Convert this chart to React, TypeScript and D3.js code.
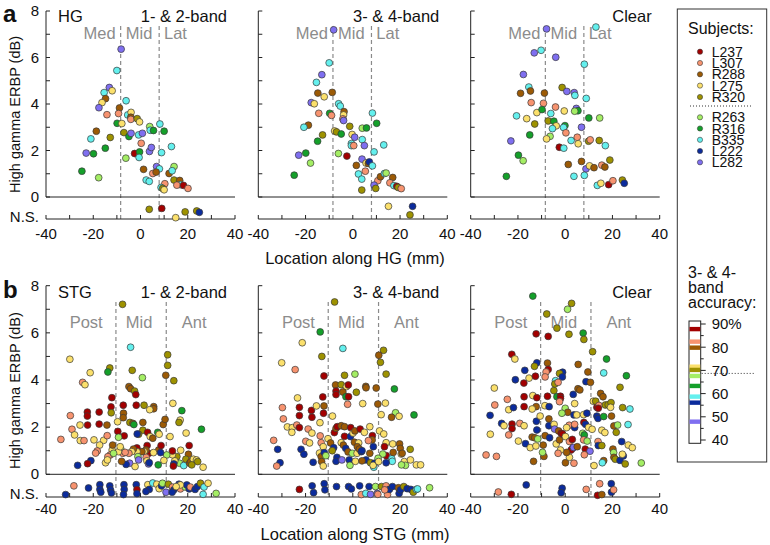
import React from "react";
import * as d3 from "d3";

type Pt = [number, number, number];

const SUBJECTS = ["L237", "L307", "R288", "L275", "R320", "R263", "R316", "B335", "L222", "L282"];
const COLORS = ["#a30000", "#f7936f", "#9c5a05", "#fbe06c", "#9e9200", "#a4ee64", "#14a02a", "#64f0ee", "#0b2b9c", "#7f6ff0"];
const ACCURACY = [87.8, 82.4, 79.8, 71.6, 70.2, 67.6, 63.3, 58.7, 56.1, 47.9];
const ACC_THRESHOLD = 68.7;
const ACC_TICKS = [40, 50, 60, 70, 80, 90];
const X_TICKS = [-40, -20, 0, 20, 40];
const Y_TICKS = [0, 2, 4, 6, 8];

const HG_12: Pt[] = [
  [-8.2,6.36,9],[-10,5.44,7],[-13.2,4.71,9],[-12,4.57,3],[-15.4,4.49,7],[-14.8,4.23,2],[-16.3,4.06,3],[-17.6,3.84,9],[-14.2,3.54,1],[-8.9,3.83,2],[-9.3,3.59,1],[-9.9,3.17,6],[-7.9,3.16,3],[-6.1,4.14,7],[-5.4,3.53,7],[-4,3.64,3],[-4.1,3.43,2],[-4.1,3.34,1],[-1.4,3.37,4],[-0.4,3.23,3],[-7,2.77,4],[-4.9,2.6,6],[-4,2.74,9],[-0.8,2.67,7],[0.8,2.74,9],[3.9,3.03,5],[4.1,2.87,7],[5.5,2.86,6],[8.2,3.14,7],[10,2.83,6],[-18.7,2.83,2],[-21,2.5,7],[-12.8,2.56,4],[-23,1.89,9],[-19.9,1.86,6],[-14.9,2.1,6],[-6.2,1.67,5],[-2.5,1.87,0],[-0.4,1.94,6],[-0.6,1.7,7],[0.3,2.31,1],[3.8,1.96,9],[4.6,2.13,9],[8.9,1.91,7],[13.1,2.17,7],[6.8,1.31,9],[8,1.21,7],[1.3,1.19,2],[5.2,1.01,1],[6.6,1.07,2],[12.1,1.01,2],[14.2,1.31,5],[13.4,1.13,7],[14.2,0.73,4],[16.6,0.71,2],[16.9,0.53,7],[15.4,0.51,1],[18.2,0.5,0],[20.1,0.37,1],[10.3,0.57,1],[8.7,0.41,7],[9.4,0.37,4],[10,0.31,3],[2.4,0.73,7],[3.7,0.67,7],[-24.8,1.11,6],[-17.7,0.83,5],
  [3.7,-0.53,4],[9,-0.49,0],[14.9,-0.89,3],[18.9,-0.64,4],[23.8,-0.6,4],[24.9,-0.66,8],
];

const HG_34: Pt[] = [
  [-8.1,7.19,9],[-10,5.77,7],[-13.1,5.26,9],[-15.4,4.93,7],[-14.8,4.47,2],[-12.1,4.31,3],[-8.7,4.5,2],[-17.6,4.06,9],[-16.3,4.01,3],[-14.4,3.6,1],[-9.8,3.6,6],[-9,3.51,1],[-6,4.01,7],[-5.3,3.91,7],[-3.7,3.67,2],[-3.9,3.53,3],[-4.2,3.36,1],[-3.9,3.29,9],[-18.8,3.09,2],[-20.7,3,7],[-12.8,2.67,4],[-14.9,2.4,6],[-7.7,2.84,3],[-6.9,2.8,4],[-4.9,2.71,6],[-1.3,3.04,4],[4,2.96,5],[5.8,2.97,6],[8.3,3.61,7],[10.1,3.17,6],[-0.3,2.69,3],[0.8,2.57,9],[-0.6,2.3,7],[-0.6,2.21,7],[0.4,2.21,1],[4,2.47,7],[4.9,2.21,9],[13.1,2.24,7],[9,1.94,7],[-22.9,1.8,9],[-19.9,1.89,6],[-17.9,1.46,5],[-6.1,1.87,5],[-2.5,1.76,0],[-24.8,0.94,6],[1.5,1.36,2],[3.9,1.63,9],[5.6,1.46,3],[6.6,1.44,2],[7,1.51,8],[8.3,1.34,7],[2.4,0.99,7],[3.8,0.77,7],[5.3,1.11,1],[10.6,0.7,1],[11.7,0.87,2],[13.4,1.01,7],[14.1,1.03,5],[16.9,0.84,2],[15.7,0.61,1],[17.4,0.49,7],[18.6,0.46,0],[19.2,0.41,4],[20.5,0.36,1],[9,0.51,9],[9.7,0.37,4],[3.8,0.3,4],
  [15.1,-0.4,3],[25.3,-0.4,8],[24.2,-0.77,4],
];

const HG_CLEAR: Pt[] = [
  [-7.9,7.23,9],[13,7.31,7],[-10.2,6.31,7],[-13.1,6.2,9],[-4,6.01,9],[8.1,5.71,7],[-17.7,5.27,9],[-15.4,4.73,7],[-14.7,4.56,2],[-18.9,4.46,2],[-8.8,4.47,2],[-1.3,4.71,4],[0.7,4.54,9],[3.8,4.49,9],[4.1,4.37,7],[8.9,4.24,7],[-14.4,4.06,1],[-9.2,4.03,1],[-12,3.63,3],[-9.8,3.76,6],[-6.1,3.59,7],[-4.1,3.87,1],[-0.4,3.7,3],[4.7,3.81,9],[5.4,3.71,6],[4,3.69,5],[-20.6,3.49,7],[-16.3,3.37,3],[10,3.4,6],[14.6,3.4,5],[-12.9,3.14,4],[-7.2,3.27,4],[-4.8,3.26,6],[-3.8,3.06,3],[-5.4,2.94,7],[-0.1,3.07,6],[-0.7,2.99,7],[6.9,3,9],[-15,2.67,6],[0.3,2.76,1],[-23,2.41,9],[-6.4,2.61,5],[-7.9,2.5,3],[2.5,2.43,7],[5.1,2.57,1],[5.5,2.29,3],[9.9,2.4,4],[10.6,2.46,1],[14.4,2.43,4],[17,2.21,7],[-2.5,2.14,0],[-0.6,2.1,7],[-19.8,1.8,6],[-17.8,1.56,5],[1.3,1.4,2],[6.9,1.53,2],[8.8,1.21,9],[10.3,1.34,3],[12.2,1.26,2],[15.5,1.37,1],[16.8,1.29,2],[18.9,1.59,4],[-24.9,0.89,6],[3.7,0.89,7],[8.1,0.93,7],[13.6,0.5,7],[15.1,0.59,3],[18.4,0.53,0],[20.2,0.7,1],[24.2,0.73,4],[25,0.59,8],
];

const STG_12: Pt[] = [
  [-7.6,7.21,4],[-4.2,5.39,7],[-29.9,4.88,3],[-21.3,4.31,3],[-24.5,3.9,1],[-23.5,3.8,3],[-13,4.51,4],[-13.8,4.34,6],[-3.5,4.41,4],[0.8,4.1,5],[-4.9,3.72,2],[-4.2,3.63,2],[-2.5,3.53,4],[-2,3.38,0],[11.5,5.07,4],[11.5,4.62,4],[10.7,4.2,2],[14.1,3.97,4],[13.7,3.01,3],[-12.1,3.25,0],[-12.5,2.86,0],[-12.4,2.61,4],[-7.3,2.93,0],[-7.2,2.59,2],[-7.3,2.4,2],[-1.8,2.93,0],[1.5,2.93,4],[5.6,2.87,2],[5.6,2.78,2],[3.9,2.74,3],[-29.7,2.49,1],[-22.5,2.64,0],[-22.5,2.47,0],[-22.4,2.09,0],[-17.5,2.64,0],[-17.5,2.13,0],[-14.2,2.09,2],[-25.6,2.09,3],[-29,1.91,1],[-27.9,1.67,3],[-25.5,1.43,3],[-23.9,1.43,1],[-33.7,1.48,1],[-19.7,1.46,3],[-15.6,1.44,3],[-14.1,1.64,1],[-17.3,1.24,3],[-18.3,0.99,1],[-19,0.9,1],[-9.7,2.23,3],[-9.6,1.82,0],[-6.9,1.63,0],[-4.5,2.2,4],[-3.2,2.16,2],[-2.8,2.11,6],[1,2.2,2],[1,1.87,4],[-0.8,1.7,4],[-1.4,1.71,8],[3,1.78,0],[4.1,1.6,3],[5.2,1.53,2],[7.3,1.78,6],[7.9,1.7,3],[9.6,2.11,2],[10.4,2.33,2],[12.5,1.6,3],[16.8,2.3,3],[16.3,2.2,4],[17.5,2.7,6],[19.3,1.75,3],[25.8,1.91,6],[20.6,1.22,0],[20.3,0.85,2],[19.2,0.64,4],[17,1.02,3],[15.4,0.75,4],[16.5,0.47,5],[14.5,0.57,3],[13.5,0.83,3],[13.5,0.99,0],[14.1,0.44,8],[13.9,0.35,0],[18.3,0.37,7],[20.8,0.47,2],[21.3,0.54,2],[22.4,0.64,3],[23.7,0.61,3],[24.2,0.54,4],[21.7,0.4,4],[26.5,0.3,3],[11.1,0.82,5],[9.9,0.59,3],[7.7,1.03,2],[8.7,1.22,0],[8.5,0.92,8],[7.5,0.4,6],[3.5,0.89,0],[2.8,1.22,0],[2.3,1.03,2],[1.5,0.96,3],[0.6,0.96,2],[-1.5,1.12,0],[-1.5,0.96,3],[-1.1,0.75,5],[-0.8,0.61,9],[2.4,0.72,1],[2.7,0.57,3],[3.4,0.44,9],[3.7,0.49,8],[5.5,0.92,3],[-3,1.07,2],[-3.7,0.96,3],[-4.9,0.89,1],[-4.6,0.47,9],[-6.1,0.42,8],[-7.5,0.89,1],[-8,0.55,2],[-8.3,1.06,5],[-9.3,0.96,3],[-8.6,1.17,3],[-9.3,1.57,5],[-2.3,0.33,3],[-6.5,0.93,1],[-12,1.03,3],[-12.8,0.82,1],[-13.8,0.75,1],[-11.4,0.89,5],[-14.8,0.49,3],[-14,0.61,3],[-21,0.58,8],[-22.4,0.45,0],[-26.6,0.38,8],[-11.8,1.24,2],
  [-28.2,-0.49,1],[-31.7,-0.86,8],[-22,-0.58,8],[-17.2,-0.44,8],[-17.2,-0.64,8],[-16.8,-0.76,8],[-13,-0.49,8],[-12.7,-0.66,8],[-12.3,-0.79,8],[-7,-0.44,8],[-6.9,-0.64,8],[-7.2,-0.86,8],[-1.8,-0.44,8],[-1.5,-0.65,0],[-1.5,-0.82,8],[3.1,-0.44,3],[3.7,-0.64,8],[2.3,-0.73,8],[5.2,-0.37,7],[6.9,-0.42,3],[7.9,-0.61,3],[8.9,-0.49,8],[10.8,-0.76,9],[9.3,-0.38,5],[11.8,-0.42,4],[13.5,-0.54,1],[14.1,-0.66,8],[13.4,-0.76,8],[16.3,-0.42,8],[16.9,-0.62,1],[18.9,-0.54,5],[19.6,-0.45,8],[20.6,-0.62,8],[21.1,-0.54,1],[23.1,-0.64,8],[24.1,-0.52,8],[25.4,-0.38,4],[26.9,-0.54,7],[28.6,-0.38,3],[26.5,-0.85,7],[32,-0.81,5],[16.9,-0.45,3],[15.1,-0.52,3],
];

const STG_34: Pt[] = [
  [-7.7,7.31,4],[-13.8,6.04,6],[-21.4,5.58,3],[-4.2,5.34,7],[-30.1,4.73,3],[-13.1,5,4],[-24.4,4.44,1],[-12.2,4.17,0],[-3.5,4.2,4],[0.9,4.25,5],[13,5.26,4],[11,5.05,2],[11.7,4.75,4],[14.1,4.25,4],[17.6,3.62,6],[-7.3,3.79,2],[-4.9,3.8,4],[-2.7,3.72,3],[-1.9,3.79,0],[-7.1,3.53,0],[-7.1,3.38,0],[-4.2,3.49,2],[-2.9,3.29,6],[-1.8,3.29,0],[1.5,3.48,4],[5.5,3.73,2],[5.6,3.67,2],[9.9,3.66,2],[-12.7,3.28,0],[-12.2,2.9,2],[-23.4,3.24,3],[-29.8,2.83,1],[-22.6,2.84,0],[-22.6,2.49,0],[-17.5,2.71,0],[-17.3,2.42,0],[-15.4,2.9,3],[-12.4,2.59,0],[-29.4,2.35,1],[-8.6,2.47,3],[-2.2,2.97,1],[4.2,3,3],[10.6,2.98,2],[13.8,3.02,3],[18.1,2.61,5],[19.6,2.46,3],[16.4,2.42,2],[12,2.53,3],[25.9,2.52,6],[-27.7,2.01,3],[-25.6,1.98,3],[-25.8,1.78,3],[-23.7,2.09,1],[-22.6,1.98,0],[-18.9,1.92,1],[-17.3,1.75,3],[-13.9,2.19,3],[-13.8,1.63,1],[-33.5,1.44,1],[-31.8,1.06,8],[-19.9,1.4,1],[-18.3,1.33,3],[-21.9,1.06,8],[-20.7,0.85,8],[-30.8,0.49,8],[-32.2,0.35,1],[-16.8,0.51,8],[-13.4,1.34,1],[-12.5,1.17,3],[-14.1,0.9,3],[-13.4,0.75,2],[-13.2,0.54,2],[-12.5,0.35,3],[-12.1,0.92,8],[-11.4,0.79,5],[-10.5,1.51,3],[-9.4,1.33,2],[-7.8,1.77,0],[-7.1,1.95,2],[-6.6,2.02,0],[-4.9,2.06,2],[-3.5,2.02,2],[-8.1,1.13,8],[-8.7,1,4],[-6.7,0.72,8],[-7.1,0.55,8],[-4.9,1.34,3],[-4,1.24,2],[-3,1.1,8],[-3.5,1.61,0],[-4.6,0.61,9],[-1.5,0.61,8],[-2,0.95,2],[-1,1.6,8],[-0.9,1.98,0],[0.1,1.75,3],[0.9,1.84,2],[0.7,1.36,2],[2.5,1.33,3],[1.9,1.17,2],[3.1,1.92,0],[-0.2,0.89,5],[1.8,0.89,3],[2.8,1.07,2],[3.6,0.96,8],[3.9,1,8],[-1.2,0.38,5],[1.1,0.55,3],[4.9,1.78,3],[7.2,2.02,3],[8.3,1.64,0],[8.2,1.46,2],[6.6,1.43,1],[7.2,0.89,2],[8.7,1.17,8],[5.6,0.61,8],[7.5,0.49,4],[9.2,0.47,8],[8.9,0.3,7],[8.6,0.38,3],[3.9,0.57,2],[11.3,1.84,3],[13.1,1.71,3],[14.1,1.34,3],[16.9,1.29,3],[13.4,1.17,0],[14.2,0.79,0],[16.5,0.66,7],[16.7,0.55,7],[14.1,0.49,8],[19.8,1.29,2],[20.1,1.1,2],[20.5,0.86,3],[20.9,0.89,2],[17.1,0.93,2],[21.8,0.54,3],[22.3,0.38,5],[20.6,0.4,5],[24.3,1.06,4],[24.4,0.61,3],[26.9,0.4,3],[28.7,0.4,3],[12.7,0.86,5],[10.7,0.68,5],[10.9,0.54,3],
  [-22.6,-0.64,0],[-17.2,-0.49,8],[-16.6,-0.78,8],[-12.1,-0.4,8],[-11.8,-0.66,8],[-6.9,-0.52,8],[-1.8,-0.52,8],[-0.6,-0.62,8],[2.9,-0.49,8],[3.6,-0.86,1],[5.5,-0.81,7],[6.9,-0.52,8],[7.5,-0.85,9],[9.6,-0.52,5],[10.3,-0.81,9],[10.6,-0.85,1],[12.1,-0.52,4],[14.1,-0.49,1],[14.7,-0.86,1],[15.5,-0.64,8],[16.8,-0.52,8],[19.3,-0.57,2],[19.6,-0.81,8],[20.2,-0.66,8],[21.6,-0.52,4],[23,-0.61,8],[24.6,-0.64,8],[25.6,-0.76,4],[26.9,-0.64,7],[27.4,-0.62,7],[32.5,-0.57,5],[13.5,-0.66,1],
];

const STG_CLEAR: Pt[] = [
  [-13.7,7.56,6],[2.7,7.25,4],[1,7,5],[-7.8,6.8,4],[-3.5,6.2,4],[-12.3,5.96,0],[-7.2,5.85,0],[1.6,5.94,4],[7.6,5.99,6],[7.9,5.72,4],[11.6,5.2,4],[17.5,4.89,6],[-22.6,5.09,0],[-21.3,4.89,3],[-12,4.73,8],[-13,4.58,4],[-17.1,4.41,8],[-7.5,4.72,2],[-7.2,4.45,0],[-8.1,4.34,1],[5.5,4.66,2],[-1.1,4.33,8],[-2.4,4.28,4],[-1.2,4.13,8],[9.6,4.34,2],[16.3,4.3,7],[25.9,4.18,6],[-21.1,4.01,8],[-15.3,4.08,3],[-12.6,4.16,0],[-8.5,4.13,1],[-17.5,3.87,0],[-30,3.66,3],[-4.1,3.97,7],[-4.4,3.83,4],[-3,3.9,1],[5.4,3.63,2],[6.2,3.58,2],[8.8,3.93,8],[10.7,3.9,2],[23.2,3.69,4],[-4.8,3.55,4],[3.4,3.39,8],[15,3.43,2],[16,3.29,2],[-24.5,3.18,1],[-29.8,2.94,1],[-23.9,2.74,3],[-21.9,2.83,8],[-17.4,3.29,0],[-17.4,2.87,0],[-13.7,3.34,3],[-12,3.25,0],[-12.3,2.87,2],[-14,2.77,3],[-7.5,3.31,0],[-8.6,2.91,3],[-6.8,2.87,8],[-3.5,3.29,6],[-2,3.31,0],[-2,3.22,0],[-2.4,3.08,1],[4,3,3],[0,2.8,5],[1.1,2.63,2],[-1.4,2.59,5],[3.7,2.52,8],[4.9,2.52,3],[11.9,3.1,3],[12.9,3.1,4],[13.4,2.84,0],[14.3,2.92,1],[14,2.8,0],[13.4,2.47,8],[13.9,2.37,8],[16.3,2.45,6],[17,2.94,4],[18.2,2.95,4],[19.4,3.04,4],[19.2,2.84,3],[24.3,2.83,4],[27.4,2.77,7],[19.6,2.47,2],[7.8,2.53,3],[9.2,2.59,8],[-31.8,2.5,8],[-26.9,2.16,8],[-25.9,2.06,3],[-22.5,2.13,0],[-22.5,1.94,0],[-19.2,2.16,1],[-17.4,2.06,3],[-12.2,2.25,8],[-12,1.88,8],[-6.9,2.35,2],[-6.9,2.06,8],[-4.7,2.12,3],[-4.5,1.92,9],[-2.8,1.84,2],[-1.7,1.74,0],[1.7,2.08,1],[0.6,1.98,3],[4,1.98,8],[4,2.12,1],[7.9,2.2,0],[8.6,2.12,8],[9.9,1.99,3],[11.4,1.91,3],[15.5,1.87,3],[16.8,1.77,3],[20.6,2.05,2],[22.2,2.09,5],[26.6,2.11,7],[21.6,1.78,4],[-31.7,1.7,3],[-23.9,1.67,1],[-19.8,1.41,3],[-16.8,1.3,8],[-14.8,1.13,3],[-14,1.58,2],[-12.9,1.55,2],[-11.6,1.5,5],[-12.4,1.2,3],[-9.3,1.24,2],[-8.5,1.64,2],[-6.6,1.55,8],[-3.8,1.29,3],[-2.4,1.46,2],[-1.1,1.71,0],[0.1,1.6,3],[1.8,1.39,1],[3,1.48,0],[3.1,1.1,8],[2.5,1.03,0],[3.5,1.14,9],[5.1,1.17,2],[7.4,1.74,5],[8.1,1.67,6],[7.8,1.46,1],[9.3,1.41,5],[8.5,1.07,0],[10.5,0.98,9],[8.1,0.83,1],[13.9,1.39,1],[14,1.22,8],[15.5,1.22,4],[20.2,1.07,2],[20.5,0.92,5],[23.9,1.39,8],[26.7,1.24,3],[28.4,1.13,3],[20.6,0.72,2],[21.2,0.64,4],[23.2,0.59,8],[24.6,0.78,8],[24.2,0.85,3],[25.4,0.44,4],[32.2,0.48,5],[16.3,0.58,2],[15.7,0.49,7],[12.2,0.37,3],[3.7,0.47,1],[0.1,0.49,2],[1.8,0.72,3],[0.6,0.93,2],[-2,1.03,3],[-3,0.89,1],[-9,0.76,2],[-9.6,0.93,5],[-13.4,0.55,2],[-33.5,0.82,1],[-29.1,0.76,1],[-10.6,2.47,3],
  [-16.5,-0.45,8],[-28.3,-0.75,1],[-22.8,-0.85,0],[-1.3,-0.59,8],[-1.7,-0.78,8],[8.9,-0.64,1],[14.6,-0.4,1],[13.7,-0.89,0],[15.5,-0.86,2],[19.5,-0.4,8],[19.6,-0.76,8],[20.5,-0.66,1],
];

const HG_REGIONS = ["Med", "Mid", "Lat"];
const STG_REGIONS = ["Post", "Mid", "Ant"];
const HG_BOUNDS: [number, number] = [-8.4, 7.9];
const STG_BOUNDS: [number, number] = [-10.4, 10.9];
const HG_REGION_X = [-17.3, -0.6, 14.8];
const STG_REGION_X = [-23, -0.6, 22.7];
const CONDITIONS = ["1- & 2-band", "3- & 4-band", "Clear"];

const FONT = "'Liberation Sans', Arial, Helvetica, sans-serif";
const PANEL_LEFT = [46, 258.3, 470.7];
const PANEL_W = 189;

type RowCfg = {
  zeroY: number; topY: number; axisY: number; dashTop: number; regionY: number; titleY: number; tickLabelY: number;
};

function Panel(props: {
  col: number; row: RowCfg; data: Pt[]; bounds: [number, number]; regions: string[]; regionX: number[];
  region: string; condition: string; letter: string;
}) {
  const { col, row, data, bounds, regions, regionX, region, condition, letter } = props;
  const left = PANEL_LEFT[col];
  const x = d3.scaleLinear().domain([-40, 40]).range([left, left + PANEL_W]);
  const y = d3.scaleLinear().domain([0, 8]).range([row.zeroY, row.topY]);
  const yMinor = d3.range(0, 9, 1);
  const xMinor = d3.range(-40, 41, 10);
  const axisColor = "#222";
  return (
    <g>
      {bounds.map((b, i) => (
        <line key={"d" + i} x1={x(b)} x2={x(b)} y1={row.dashTop} y2={row.axisY} stroke="#8a8a8a" strokeWidth={1.2} strokeDasharray="4,3" />
      ))}
      {regions.map((r, i) => (
        <text key={"r" + i} x={x(regionX[i])} y={row.regionY} textAnchor="middle" fontSize={16.5} fill="#8c8c8c" fontFamily={FONT}>{r}</text>
      ))}
      <line x1={left} x2={left} y1={y(8)} y2={y(0)} stroke={axisColor} strokeWidth={1} />
      {yMinor.map((t) => (
        <line key={"yt" + t} x1={left} x2={left + 4} y1={y(t)} y2={y(t)} stroke={axisColor} strokeWidth={1} />
      ))}
      {col === 0 && Y_TICKS.map((t) => (
        <text key={"yl" + t} x={left - 7} y={y(t) + 5} textAnchor="end" fontSize={15} fontFamily={FONT} fill="#111">{t}</text>
      ))}
      {col === 0 && (
        <text x={left - 7} y={y(-0.85) + 5} textAnchor="end" fontSize={15} fontFamily={FONT} fill="#111">N.S.</text>
      )}
      <line x1={x(-40)} x2={x(40)} y1={y(0)} y2={y(0)} stroke={axisColor} strokeWidth={1} />
      <line x1={x(-40)} x2={x(40)} y1={row.axisY} y2={row.axisY} stroke={axisColor} strokeWidth={1} />
      {xMinor.map((t) => (
        <line key={"xt" + t} x1={x(t)} x2={x(t)} y1={row.axisY} y2={row.axisY - 4} stroke={axisColor} strokeWidth={1} />
      ))}
      {X_TICKS.map((t) => (
        <text key={"xl" + t} x={x(t)} y={row.tickLabelY} textAnchor="middle" fontSize={15} fontFamily={FONT} fill="#111">{t}</text>
      ))}
      {data.map((d, i) => (
        <circle key={"p" + i} cx={x(d[0])} cy={y(d[1])} r={3.4} fill={COLORS[d[2]]} stroke="#3a3a3a" strokeWidth={0.7} />
      ))}
      <text x={left + PANEL_W - 8} y={row.titleY} textAnchor="end" fontSize={16.5} fontFamily={FONT} fill="#111">{condition}</text>
      {col === 0 && (
        <>
          <text x={left + 12} y={row.titleY} fontSize={16.5} fontFamily={FONT} fill="#111">{region}</text>
          <text x={3} y={row.titleY} fontSize={24} fontWeight="bold" fontFamily={FONT} fill="#111">{letter}</text>
          <text transform={`translate(20,${(y(8) + y(-0.9)) / 2}) rotate(-90)`} textAnchor="middle" fontSize={14.5} fontFamily={FONT} fill="#111">High gamma ERBP (dB)</text>
        </>
      )}
    </g>
  );
}

function Legend() {
  const left = 677.3, top = 9, right = 766.7, bottom = 462;
  const itemY = [51.7, 63, 74.3, 85.6, 97, 117.3, 128.5, 139.8, 151, 162.3];
  const cb = d3.scaleLinear().domain([40, 90]).range([440, 324]);
  const cbTop = 321, cbBottom = 443.3, cbL = 689, cbR = 700.7;
  return (
    <g fontFamily={FONT} fill="#111">
      <rect x={left} y={top} width={right - left} height={bottom - top} fill="#fff" stroke="#333" strokeWidth={1} />
      <text x={688} y={33.5} fontSize={16}>Subjects:</text>
      {SUBJECTS.map((s, i) => (
        <g key={s}>
          <circle cx={700} cy={itemY[i]} r={2.6} fill={COLORS[i]} stroke="#3a3a3a" strokeWidth={0.6} />
          <text x={711.7} y={itemY[i] + 5} fontSize={14}>{s}</text>
        </g>
      ))}
      <line x1={690} x2={753} y1={106} y2={106} stroke="#333" strokeWidth={1} strokeDasharray="1,2" />
      <text x={688} y={278} fontSize={16}>3- &amp; 4-</text>
      <text x={688} y={293} fontSize={16}>band</text>
      <text x={688} y={308} fontSize={16}>accuracy:</text>
      <rect x={cbL} y={cbTop} width={cbR - cbL} height={cbBottom - cbTop} fill="#fff" stroke="#222" strokeWidth={1} />
      {ACCURACY.map((a, i) => (
        <rect key={"b" + i} x={cbL + 0.5} y={cb(a) - 2.2} width={cbR - cbL - 1} height={4.4} fill={COLORS[i]} />
      ))}
      {d3.range(40, 91, 5).map((t) => (
        <line key={"ct" + t} x1={cbR} x2={cbR + (t % 10 === 0 ? 5 : 3)} y1={cb(t)} y2={cb(t)} stroke="#222" strokeWidth={1} />
      ))}
      {ACC_TICKS.map((t) => (
        <text key={"cl" + t} x={711.7} y={cb(t) + 5.3} fontSize={15}>{t === 90 ? "90%" : t}</text>
      ))}
      <line x1={cbR + 1} x2={754} y1={cb(ACC_THRESHOLD)} y2={cb(ACC_THRESHOLD)} stroke="#333" strokeWidth={1} strokeDasharray="1,2" />
    </g>
  );
}

const TOP_ROW: RowCfg = { zeroY: 197, topY: 11, axisY: 219, dashTop: 26, regionY: 39, titleY: 21.5, tickLabelY: 238.5 };
const BOT_ROW: RowCfg = { zeroY: 474.3, topY: 285.7, axisY: 497, dashTop: 302, regionY: 327.5, titleY: 298, tickLabelY: 514 };

export default function App() {
  const hg = [HG_12, HG_34, HG_CLEAR];
  const stg = [STG_12, STG_34, STG_CLEAR];
  return (
    <svg width={770} height={545} viewBox="0 0 770 545" style={{ position: "absolute", left: 0, top: 0, background: "#fff" }}>
      <rect x={0} y={0} width={770} height={545} fill="#fff" />
      {hg.map((d, i) => (
        <Panel key={"hg" + i} col={i} row={TOP_ROW} data={d} bounds={HG_BOUNDS} regions={HG_REGIONS} regionX={HG_REGION_X}
          region="HG" condition={CONDITIONS[i]} letter="a" />
      ))}
      {stg.map((d, i) => (
        <Panel key={"stg" + i} col={i} row={BOT_ROW} data={d} bounds={STG_BOUNDS} regions={STG_REGIONS} regionX={STG_REGION_X}
          region="STG" condition={CONDITIONS[i]} letter="b" />
      ))}
      <text x={355} y={264} textAnchor="middle" fontSize={16.5} fontFamily={FONT} fill="#111">Location along HG (mm)</text>
      <text x={355} y={540} textAnchor="middle" fontSize={16.5} fontFamily={FONT} fill="#111">Location along STG (mm)</text>
      <Legend />
    </svg>
  );
}
